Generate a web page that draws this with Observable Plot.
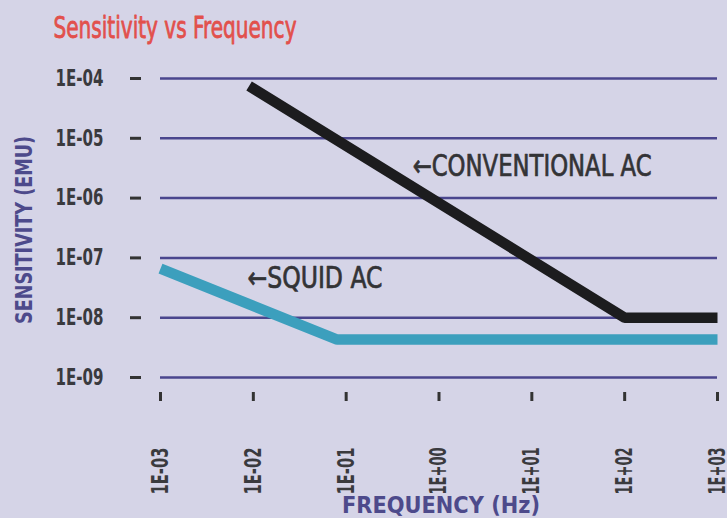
<!DOCTYPE html>
<html>
<head>
<meta charset="utf-8">
<script src="https://cdn.jsdelivr.net/npm/d3@7"></script>
<script src="https://cdn.jsdelivr.net/npm/@observablehq/plot@0.6"></script>
<style>
  html, body { margin: 0; padding: 0; background: #d5d4e7; }
  #chart { position: relative; width: 727px; height: 518px; overflow: hidden; }
  svg { font-family: "DejaVu Sans Condensed", "DejaVu Sans", sans-serif; }
  g[aria-label="y-axis tick label"] text, g[aria-label="x-axis tick label"] text { font-size: 23px; font-weight: bold; fill: #3a3a3e; }
</style>
</head>
<body>
<div id="chart"></div>
<script>
const titleText = "Sensitivity vs Frequency";
const xLabel = "FREQUENCY (Hz)";
const yLabel = "SENSITIVITY (EMU)";
const xTicks = [1e-3, 1e-2, 1e-1, 1e0, 1e1, 1e2, 1e3];
const yTicks = [1e-9, 1e-8, 1e-7, 1e-6, 1e-5, 1e-4];

const convFreq = [0.009, 100, 1000];
const convSens = [7.5e-5, 1e-8, 1e-8];
const squidFreq = [0.001, 0.08, 1000];
const squidSens = [6.6e-8, 4.3e-9, 4.3e-9];

const labels = ["\u2190CONVENTIONAL AC", "\u2190SQUID AC"];
const labelFreq = [0.52, 0.00866];
const labelSens = [3.4e-6, 4.5e-8];

const fmt = d => {
  const e = Math.round(Math.log10(d));
  return "1E" + (e < 0 ? "-" : "+") + String(Math.abs(e)).padStart(2, "0");
};

const conv = convFreq.map((f, i) => ({f, s: convSens[i]}));
const squid = squidFreq.map((f, i) => ({f, s: squidSens[i]}));
const ann = labels.map((t, i) => ({t, f: labelFreq[i], s: labelSens[i]}));

const chart = Plot.plot({
  width: 727,
  height: 518,
  marginLeft: 160,
  marginRight: 10,
  marginTop: 78,
  marginBottom: 141,
  style: {background: "transparent", overflow: "visible"},
  x: {type: "log", domain: [1e-3, 1e3]},
  y: {type: "log", domain: [1e-9, 1e-4]},
  marks: [
    Plot.ruleY(yTicks, {stroke: "#4a468e", strokeWidth: 2.5}),
    Plot.axisY({ticks: yTicks, tickFormat: fmt, tickSize: 11, tickPadding: 27, dx: -19, stroke: "#333", strokeWidth: 3, label: null}),
    Plot.axisX({ticks: xTicks, tickFormat: fmt, tickSize: 9, tickPadding: 46, dy: 15, tickRotate: -90, stroke: "#333", strokeWidth: 3, label: null}),
    Plot.line(squid, {x: "f", y: "s", stroke: "#3c9fbd", strokeWidth: 10.5, strokeLinecap: "butt", strokeLinejoin: "miter"}),
    Plot.line(conv, {x: "f", y: "s", stroke: "#1c1c1e", strokeWidth: 10.5, strokeLinecap: "butt", strokeLinejoin: "miter"}),
    Plot.text(ann, {x: "f", y: "s", text: "t", textAnchor: "start", fontSize: 30, fill: "#333336", stroke: "#333336", strokeWidth: 0.7, lineAnchor: "middle"}),
    Plot.text([yLabel], {frameAnchor: "left", textAnchor: "middle", dx: -136, dy: 2, rotate: -90, fontSize: 23, fontWeight: "bold", fill: "#4d4a8b"}),
    Plot.text([xLabel], {frameAnchor: "bottom", textAnchor: "middle", dx: 2, dy: 128, fontSize: 23, fontWeight: "bold", fill: "#4d4a8b", lineAnchor: "middle"}),
    Plot.text([titleText], {frameAnchor: "top-left", dx: -107, dy: -50, textAnchor: "start", lineAnchor: "middle", fontSize: 31, fill: "#e2504c", stroke: "#e2504c", strokeWidth: 0.8})
  ]
});
// condensed look: fit each text to the width it has in the reference
const fit = (sel, len) => sel.attr("textLength", len).attr("lengthAdjust", "spacingAndGlyphs");
const svg = d3.select(chart);
fit(svg.selectAll('g[aria-label="y-axis tick label"] text'), 48);
fit(svg.selectAll('g[aria-label="x-axis tick label"] text'), 47);
svg.selectAll("text").each(function() {
  const t = this.textContent, s = d3.select(this);
  if (t === titleText) fit(s, 243);
  else if (t === xLabel) fit(s, 198);
  else if (t === yLabel) fit(s, 188);
  else if (t === labels[0]) fit(s, 239);
  else if (t === labels[1]) fit(s, 135);
});
document.getElementById("chart").appendChild(chart);
</script>
</body>
</html>
